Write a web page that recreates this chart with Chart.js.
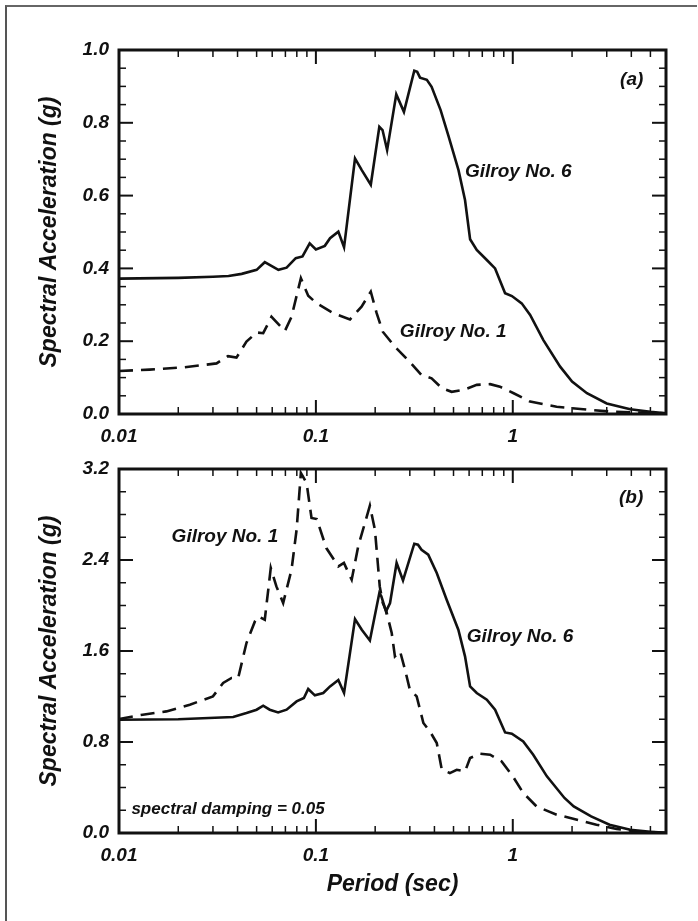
<!DOCTYPE html>
<html>
<head>
<meta charset="utf-8">
<script src="https://cdn.jsdelivr.net/npm/chart.js@4.4.0/dist/chart.umd.min.js"></script>
<style>
  html, body { margin: 0; padding: 0; background: #fff; }
  body { width: 698px; height: 921px; position: relative; overflow: hidden; }
  .frame { position: absolute; left: 5px; top: 5px; width: 690px; height: 930px;
           border-top: 2px solid #666; border-left: 2px solid #555; }
  canvas { position: absolute; left: 0; }
  #chartA { top: 0; }
  #chartB { top: 430px; }
</style>
</head>
<body>
<div class="frame"></div>
<canvas id="chartA" width="698" height="460"></canvas>
<canvas id="chartB" width="698" height="491"></canvas>
<script>
Chart.defaults.font.family = "'Liberation Sans', Arial, sans-serif";
Chart.defaults.color = '#111';

// 축 눈금
const xTicks = [0.01, 0.1, 1];
const yTicksA = [0, 0.2, 0.4, 0.6, 0.8, 1.0];
const yTicksB = [0, 0.8, 1.6, 2.4, 3.2];

// (a) Gilroy No. 6
const periodA6 = [0.01, 0.02, 0.03, 0.036, 0.042, 0.05, 0.055, 0.0645, 0.071, 0.079, 0.0855, 0.093, 0.1, 0.111, 0.118, 0.13, 0.139, 0.158, 0.171, 0.19, 0.21, 0.218, 0.23, 0.256, 0.28, 0.316, 0.327, 0.338, 0.366, 0.387, 0.43, 0.47, 0.53, 0.572, 0.607, 0.656, 0.738, 0.813, 0.914, 0.99, 1.11, 1.225, 1.43, 1.74, 2.0, 2.38, 3.0, 3.95, 5.0, 6.0];
const saA6 = [0.372, 0.374, 0.377, 0.379, 0.385, 0.396, 0.417, 0.396, 0.402, 0.428, 0.433, 0.469, 0.452, 0.462, 0.483, 0.501, 0.458, 0.702, 0.670, 0.630, 0.789, 0.780, 0.725, 0.878, 0.830, 0.943, 0.940, 0.924, 0.918, 0.899, 0.835, 0.766, 0.670, 0.588, 0.480, 0.451, 0.423, 0.400, 0.332, 0.324, 0.304, 0.272, 0.203, 0.130, 0.089, 0.057, 0.029, 0.013, 0.006, 0.002];

// (a) Gilroy No. 1
const periodA1 = [0.01, 0.0143, 0.0212, 0.0313, 0.0358, 0.0395, 0.0444, 0.050, 0.054, 0.0595, 0.0696, 0.0752, 0.0839, 0.0914, 0.101, 0.1225, 0.149, 0.1706, 0.19, 0.2035, 0.2186, 0.252, 0.294, 0.344, 0.387, 0.436, 0.489, 0.561, 0.656, 0.767, 0.861, 1.01, 1.225, 1.67, 2.28, 3.25, 6.0];
const saA1 = [0.118, 0.122, 0.128, 0.139, 0.159, 0.155, 0.199, 0.224, 0.222, 0.267, 0.228, 0.267, 0.373, 0.325, 0.304, 0.277, 0.260, 0.295, 0.336, 0.277, 0.226, 0.185, 0.148, 0.107, 0.098, 0.071, 0.061, 0.066, 0.080, 0.082, 0.075, 0.057, 0.034, 0.020, 0.013, 0.006, 0.002];

// (b) Gilroy No. 6
const periodB6 = [0.01, 0.02, 0.038, 0.0444, 0.05, 0.054, 0.0583, 0.0643, 0.071, 0.0798, 0.0869, 0.0914, 0.0988, 0.109, 0.118, 0.130, 0.139, 0.158, 0.171, 0.188, 0.21, 0.215, 0.227, 0.238, 0.257, 0.277, 0.316, 0.33, 0.344, 0.372, 0.411, 0.4615, 0.529, 0.572, 0.607, 0.656, 0.738, 0.813, 0.914, 0.989, 1.13, 1.27, 1.49, 1.83, 2.04, 2.5, 3.1, 3.95, 5.0, 6.0];
const saB6 = [0.996, 1.0, 1.02, 1.055, 1.084, 1.119, 1.084, 1.06, 1.084, 1.157, 1.187, 1.266, 1.21, 1.231, 1.289, 1.345, 1.231, 1.881, 1.787, 1.693, 2.11, 2.08, 1.948, 2.022, 2.374, 2.22, 2.543, 2.535, 2.49, 2.447, 2.286, 2.051, 1.787, 1.553, 1.289, 1.231, 1.172, 1.084, 0.884, 0.873, 0.805, 0.688, 0.498, 0.308, 0.234, 0.146, 0.073, 0.029, 0.01, 0.002];

// (b) Gilroy No. 1
const periodB1 = [0.01, 0.0132, 0.0174, 0.0229, 0.030, 0.0338, 0.0373, 0.0403, 0.0444, 0.049, 0.051, 0.055, 0.059, 0.063, 0.0682, 0.0752, 0.0798, 0.0839, 0.0897, 0.095, 0.101, 0.113, 0.130, 0.1388, 0.152, 0.164, 0.188, 0.1995, 0.211, 0.2186, 0.228, 0.2427, 0.252, 0.2676, 0.2836, 0.30, 0.325, 0.3515, 0.3795, 0.411, 0.436, 0.479, 0.519, 0.572, 0.607, 0.683, 0.767, 0.878, 1.0, 1.13, 1.32, 1.67, 2.12, 2.66, 3.37, 4.25, 6.0];
const saB1 = [1.002, 1.04, 1.069, 1.128, 1.201, 1.319, 1.363, 1.363, 1.67, 1.86, 1.904, 1.875, 2.33, 2.168, 2.022, 2.315, 2.666, 3.165, 3.077, 2.769, 2.76, 2.505, 2.344, 2.374, 2.227, 2.52, 2.877, 2.666, 2.168, 2.022, 1.948, 1.758, 1.553, 1.597, 1.436, 1.26, 1.201, 0.967, 0.893, 0.791, 0.556, 0.527, 0.556, 0.541, 0.659, 0.697, 0.688, 0.629, 0.498, 0.352, 0.234, 0.161, 0.117, 0.073, 0.035, 0.014, 0.002];

const ink = '#111';
const labelFont = { size: 19, weight: 'bold', style: 'italic' };
const titleFont = { size: 23, weight: 'bold', style: 'italic' };

function toPoints(ts, vs) {
  return ts.map((t, i) => ({ x: t, y: vs[i] }));
}

// 프레임 + 안쪽 눈금 + 주석
const boxTicks = {
  id: 'boxTicks',
  afterDatasetsDraw(chart, args, opts) {
    const { ctx, chartArea: a, scales: { x, y } } = chart;
    ctx.save();
    ctx.strokeStyle = ink;
    ctx.lineCap = 'butt';

    const tick = (x1, y1, x2, y2, w) => {
      ctx.lineWidth = w;
      ctx.beginPath();
      ctx.moveTo(x1, y1);
      ctx.lineTo(x2, y2);
      ctx.stroke();
    };

    // x 눈금 (log)
    xTicks.forEach(d => {
      for (let m = 1; m <= 9; m++) {
        const v = m * d;
        if (v > x.max + 1e-9) break;
        const px = x.getPixelForValue(v);
        const len = m === 1 ? 14 : 7;
        const w = m === 1 ? 2 : 1.5;
        tick(px, a.bottom, px, a.bottom - len, w);
        tick(px, a.top, px, a.top + len, w);
      }
    });

    // y 눈금
    const n = Math.round(y.max / opts.minorStep);
    for (let i = 0; i <= n; i++) {
      const v = i * opts.minorStep;
      const major = opts.majors.some(t => Math.abs(t - v) < 1e-6);
      const py = y.getPixelForValue(v);
      const len = major ? 14 : 7;
      const w = major ? 2 : 1.5;
      tick(a.left, py, a.left + len, py, w);
      tick(a.right, py, a.right - len, py, w);
    }

    ctx.lineWidth = 3;
    ctx.strokeRect(a.left, a.top, a.right - a.left, a.bottom - a.top);

    ctx.fillStyle = ink;
    ctx.textBaseline = 'middle';
    opts.notes.forEach(note => {
      ctx.font = `italic bold ${note.size}px 'Liberation Sans', Arial, sans-serif`;
      ctx.textAlign = note.align || 'left';
      ctx.fillText(note.text, x.getPixelForValue(note.x), y.getPixelForValue(note.y));
    });
    ctx.restore();
  }
};

function makeChart(id, cfg) {
  const ctx = document.getElementById(id).getContext('2d');
  return new Chart(ctx, {
    type: 'line',
    data: {
      datasets: [
        {
          label: 'Gilroy No. 6',
          data: cfg.solid,
          borderColor: ink,
          borderWidth: 2.6,
          pointRadius: 0,
          tension: 0,
          fill: false
        },
        {
          label: 'Gilroy No. 1',
          data: cfg.dashed,
          borderColor: ink,
          borderWidth: 2.6,
          borderDash: [14, 8],
          pointRadius: 0,
          tension: 0,
          fill: false
        }
      ]
    },
    options: {
      responsive: false,
      animation: false,
      devicePixelRatio: 1,
      layout: { padding: { top: cfg.padTop, right: 32, left: 0, bottom: 0 } },
      plugins: {
        legend: { display: false },
        tooltip: { enabled: false },
        boxTicks: { minorStep: cfg.minorStep, majors: cfg.yTicks, notes: cfg.notes }
      },
      scales: {
        x: {
          type: 'logarithmic',
          min: 0.01,
          max: 6,
          grid: { display: false, drawTicks: false },
          border: { display: false },
          afterBuildTicks: scale => { scale.ticks = xTicks.map(v => ({ value: v })); },
          afterFit: scale => { scale.height = cfg.xHeight; },
          ticks: {
            font: labelFont,
            color: ink,
            padding: 11,
            maxRotation: 0,
            autoSkip: false,
            callback: v => String(v)
          },
          title: {
            display: !!cfg.xTitle,
            text: cfg.xTitle || '',
            font: titleFont,
            color: ink,
            padding: { top: 0, bottom: 23 }
          }
        },
        y: {
          min: 0,
          max: cfg.yTicks[cfg.yTicks.length - 1],
          grid: { display: false, drawTicks: false },
          border: { display: false },
          afterBuildTicks: scale => { scale.ticks = cfg.yTicks.map(v => ({ value: v })); },
          afterFit: scale => { scale.width = 119; },
          ticks: {
            font: labelFont,
            color: ink,
            padding: 10,
            callback: v => Number(v).toFixed(1)
          },
          title: {
            display: true,
            text: 'Spectral Acceleration (g)',
            font: titleFont,
            color: ink,
            padding: { top: 36, bottom: 0 }
          }
        }
      }
    },
    plugins: [boxTicks]
  });
}

makeChart('chartA', {
  solid: toPoints(periodA6, saA6),
  dashed: toPoints(periodA1, saA1),
  yTicks: yTicksA,
  minorStep: 0.05,
  padTop: 50,
  xHeight: 46,
  notes: [
    { text: 'Gilroy No. 6', x: 0.572, y: 0.665, size: 19 },
    { text: 'Gilroy No. 1', x: 0.267, y: 0.226, size: 19 },
    { text: '(a)', x: 4.6, y: 0.918, size: 19, align: 'right' }
  ]
});

makeChart('chartB', {
  solid: toPoints(periodB6, saB6),
  dashed: toPoints(periodB1, saB1),
  yTicks: yTicksB,
  minorStep: 0.2,
  padTop: 39,
  xHeight: 88,
  xTitle: 'Period (sec)',
  notes: [
    { text: 'Gilroy No. 1', x: 0.0185, y: 2.608, size: 19 },
    { text: 'Gilroy No. 6', x: 0.583, y: 1.728, size: 19 },
    { text: '(b)', x: 4.6, y: 2.945, size: 19, align: 'right' },
    { text: 'spectral damping = 0.05', x: 0.01156, y: 0.205, size: 17 }
  ]
});
</script>
</body>
</html>
